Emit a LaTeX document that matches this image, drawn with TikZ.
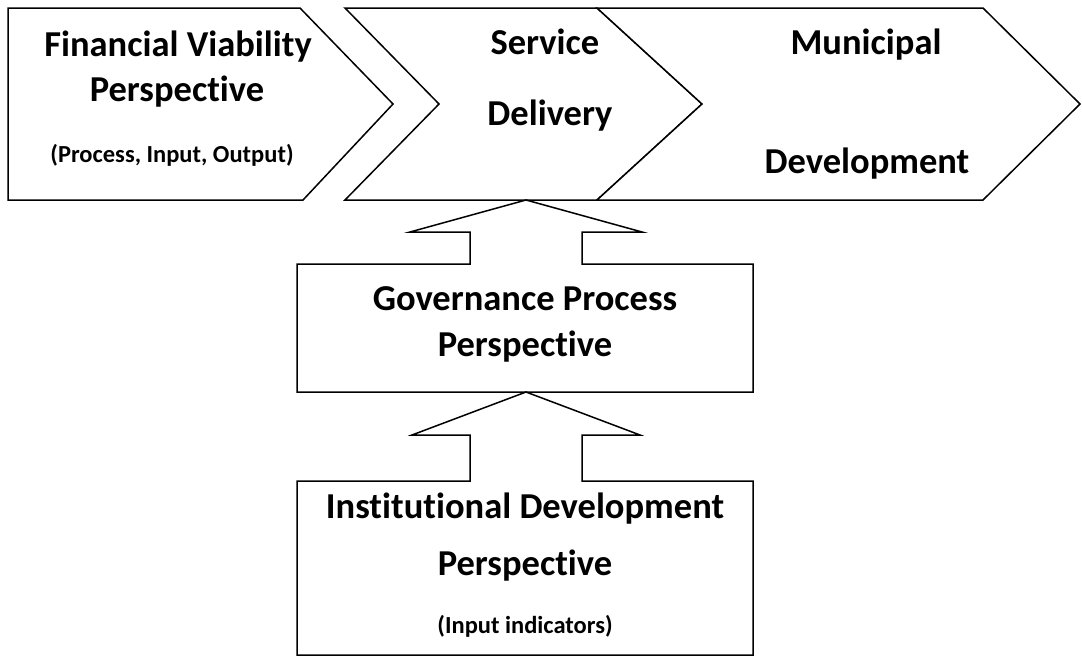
\documentclass[tikz,border=0pt]{standalone}
\usepackage{fontspec}
\setmainfont[RawFeature={-liga;-dlig}]{Carlito}
\begin{document}
\begin{tikzpicture}[x=1pt,y=-1pt,
  outlinebox/.style={draw=black,line width=1.5pt,line join=miter,fill=white},
  big/.style={font=\bfseries\fontsize{36.5}{44}\selectfont,anchor=base,inner sep=0pt},
  small/.style={font=\bfseries\fontsize{24.5}{30}\selectfont,anchor=base,inner sep=0pt}]
\useasboundingbox[fill=white] (0,0) rectangle (1082,656);
% top chevrons
\draw[outlinebox] (8,8) -- (300,8) -- (393,104) -- (303,200) -- (8,200) -- cycle;
\draw[outlinebox] (345,8) -- (597,8) -- (702,104) -- (597,200) -- (345,200) -- (439,104) -- cycle;
\draw[outlinebox] (597,8) -- (983,8) -- (1080,104) -- (983,200) -- (597,200) -- (702,104) -- cycle;
% governance box with arrow
\draw[outlinebox] (297,264) -- (470,264) -- (470,232) -- (410,232) -- (526,200) -- (642,232) -- (582,232) -- (582,264) -- (753,264) -- (753,392) -- (297,392) -- cycle;
% institutional box with arrow
\draw[outlinebox] (297,481) -- (470,481) -- (470,435) -- (412,435) -- (526,392) -- (640,435) -- (582,435) -- (582,481) -- (753,481) -- (753,655) -- (297,655) -- cycle;
% texts
\node[big] (fv1) at (178,56) {Financial Viability};
\node[big] (fv2) at (177,101) {Perspective};
\node[small] (fv3) at (172,162) {(Process, Input, Output)};
\node[big] (sd1) at (545,54) {Service};
\node[big] (sd2) at (550,125) {Delivery};
\node[big] (md1) at (866,54) {Municipal};
\node[big] (md2) at (867,173) {Development};
\node[big] (gp1) at (525,310) {Governance Process};
\node[big] (gp2) at (525,356) {Perspective};
\node[big] (id1) at (525,518) {Institutional Development};
\node[big] (id2) at (525,575) {Perspective};
\node[small] (id3) at (525,633) {(Input indicators)};
\end{tikzpicture}
\end{document}
